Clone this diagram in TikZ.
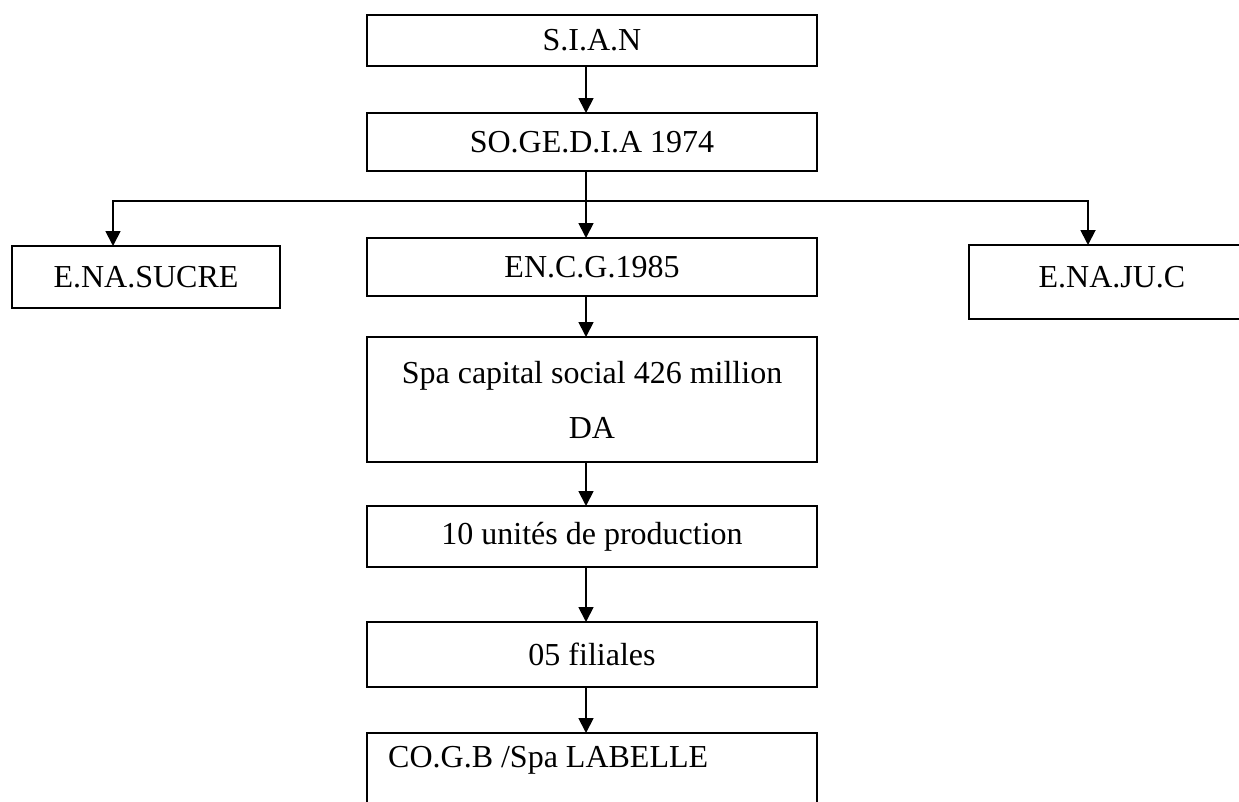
\documentclass[tikz,border=0pt]{standalone}
\usepackage{fontspec}
\setmainfont{Liberation Serif}
\usetikzlibrary{arrows.meta}
\begin{document}
\begin{tikzpicture}[x=1pt,y=-1pt,
  box/.style={draw,line width=1.8pt,inner sep=0pt,outer sep=0pt,font=\fontsize{32}{55}\selectfont,align=center},
  lbl/.style={inner sep=0pt,font=\fontsize{32}{38}\selectfont},
  conn/.style={line width=1.8pt},
  arr/.style={line width=1.8pt,-{Triangle[width=15pt,length=15pt]}}]
\useasboundingbox (0,0) rectangle (1239,801);
\node[box,minimum width=450pt,minimum height=51pt] (sian) at (592,40.5) {S.I.A.N};
\node[box,minimum width=450pt,minimum height=58pt] (sogedia) at (592,142) {SO.GE.D.I.A 1974};
\node[box,minimum width=450pt,minimum height=58pt] (encg) at (592,267) {EN.C.G.1985};
\node[box,minimum width=268pt,minimum height=62pt] (sucre) at (146,277) {E.NA.SUCRE};
\node[box,minimum width=286pt,minimum height=74pt] (enajuc) at (1112,282) {};
\node[lbl] (enajuct) at (1112,277) {E.NA.JU.C};
\node[box,minimum width=450pt,minimum height=125pt] (spa) at (592,399.5) {Spa capital social 426 million\\DA};
\node[box,minimum width=450pt,minimum height=61pt] (unites) at (592,536.5) {10 unités de production};
\node[box,minimum width=450pt,minimum height=65pt] (filiales) at (592,654.5) {05 filiales};
\node[box,minimum width=450pt,minimum height=110pt] (cogb) at (592,788) {};
\node[lbl,anchor=west] (cogbt) at (388,760) {CO.G.B /Spa LABELLE};
\coordinate (ax) at (586,0);
\coordinate (bl) at (113,201);
\coordinate (br) at (1088,201);
\draw[arr] (sian.south -| ax) -- (sogedia.north -| ax);
\draw[conn] (sogedia.south -| ax) -- (ax |- bl);
\draw[arr] (ax |- bl) -- (encg.north -| ax);
\draw[arr] (ax |- bl) -- (bl) -- (sucre.north -| bl);
\draw[arr] (ax |- bl) -- (br) -- (enajuc.north -| br);
\draw[arr] (encg.south -| ax) -- (spa.north -| ax);
\draw[arr] (spa.south -| ax) -- (unites.north -| ax);
\draw[arr] (unites.south -| ax) -- (filiales.north -| ax);
\draw[arr] (filiales.south -| ax) -- (cogb.north -| ax);
\end{tikzpicture}
\end{document}
